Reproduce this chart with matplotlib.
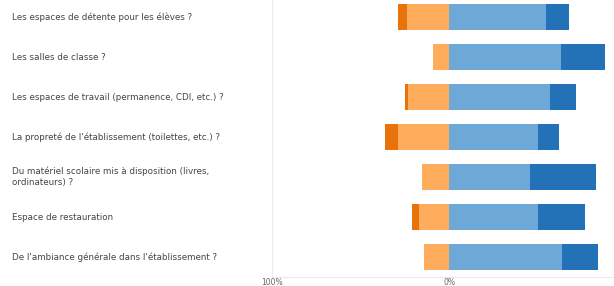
import numpy as np
import matplotlib
matplotlib.use("Agg")
import matplotlib.pyplot as plt

questions = [
    "Les espaces de détente pour les élèves ?",
    "Les salles de classe ?",
    "Les espaces de travail (permanence, CDI, etc.) ?",
    "La propreté de l'établissement (toilettes, etc.) ?",
    "Du matériel scolaire mis à disposition (livres,\nordinateurs) ?",
    "Espace de restauration",
    "De l'ambiance générale dans l'établissement ?",
]
# percentages per answer
tres_insatisfait = [5, 0, 2, 7, 0, 4, 0]
insatisfait = [24, 9, 23, 29, 15, 17, 14]
satisfait = [55, 63, 57, 50, 46, 50, 64]
tres_satisfait = [13, 25, 15, 12, 37, 27, 20]
tick_vals = [-100, 0, 100]
tick_labels = ["100%", "0%", "100%"]

c_dark_orange = "#E8720C"
c_light_orange = "#FFAD5C"
c_light_blue = "#6EA8D7"
c_dark_blue = "#2372B8"

W, H = 614, 286
fig = plt.figure(figsize=(W / 100, H / 100), dpi=100)
ax = fig.add_axes([272 / W, 1 - 277 / H, (626 - 272) / W, 280 / H])

y = np.arange(len(questions))
ti = np.array(tres_insatisfait)
ins = np.array(insatisfait)
sat = np.array(satisfait)
ts = np.array(tres_satisfait)
h = 0.66

ax.barh(y, -ins, height=h, color=c_light_orange, lw=0)
ax.barh(y, -ti, left=-ins, height=h, color=c_dark_orange, lw=0)
ax.barh(y, sat, height=h, color=c_light_blue, lw=0)
ax.barh(y, ts, left=sat, height=h, color=c_dark_blue, lw=0)

ax.set_xlim(-100, 100)
ax.set_ylim(len(questions) - 0.5, -0.5)
ax.set_xticks(tick_vals)
ax.set_xticklabels(tick_labels, fontsize=5.5, color="#666666")
ax.tick_params(axis="x", length=0, pad=1)
ax.set_yticks([])
for s in ["top", "right", "left"]:
    ax.spines[s].set_visible(False)
ax.spines["bottom"].set_color("#eaeaea")
ax.axvline(-100, color="#ececec", lw=0.8, zorder=0)

for i, q in enumerate(questions):
    yc = 17 + 40 * i
    fig.text(12 / W, 1 - yc / H, q, fontsize=6.3, color="#444444",
             ha="left", va="center", linespacing=1.3)

fig.savefig("out.png", dpi=100)
